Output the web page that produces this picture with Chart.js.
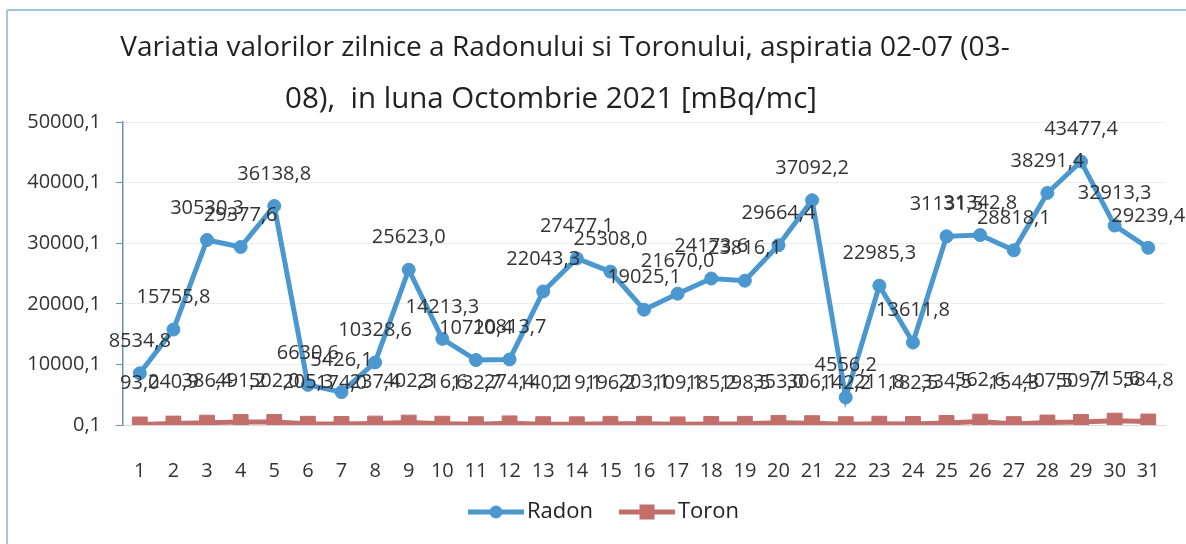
<!DOCTYPE html>
<html>
<head>
<meta charset="utf-8">
<script src="https://cdn.jsdelivr.net/npm/chart.js@4.4.1/dist/chart.umd.min.js"></script>
<style>
html,body{margin:0;padding:0;background:#ffffff;}
#wrap{width:1186px;height:544px;position:relative;}
</style>
</head>
<body>
<div id="wrap"><canvas id="c" width="1186" height="544"></canvas></div>
<script>
const titleLines = [
  "Variatia valorilor zilnice a Radonului si Toronului, aspiratia 02-07 (03-",
  "08),  in luna Octombrie 2021 [mBq/mc]"
];
const days = ["1","2","3","4","5","6","7","8","9","10","11","12","13","14","15","16",
  "17","18","19","20","21","22","23","24","25","26","27","28","29","30","31"];
const radon = [8534.8, 15755.8, 30530.3, 29377.6, 36138.8, 6630.6, 5426.1, 10328.6,
  25623.0, 14213.3, 10720.4, 10813.7, 22043.3, 27477.1, 25308.0, 19025.1, 21670.0,
  24173.6, 23816.1, 29664.4, 37092.2, 4556.2, 22985.3, 13611.8, 31131.5, 31342.8,
  28818.1, 38291.4, 43477.4, 32913.3, 29239.4];
const toron = [93.0, 240.9, 386.4, 491.2, 502.0, 205.3, 174.0, 237.4, 402.3, 216.6,
  132.7, 274.4, 140.2, 119.1, 196.2, 203.1, 109.1, 185.2, 198.5, 353.0, 306.1, 142.2,
  211.8, 182.5, 334.5, 562.6, 154.3, 407.5, 509.7, 715.6, 584.8];
const seriesNames = ["Radon", "Toron"];
const yTicks = [0.1, 10000.1, 20000.1, 30000.1, 40000.1, 50000.1];

const RADON_COLOR = "#4a98cf";
const TORON_COLOR = "#c26f6b";
const TEXT_COLOR = "#333333";
const FONT = '"Open Sans", "DejaVu Sans", sans-serif';

function fmt(v) { return v.toFixed(1).replace(".", ","); }

const framePlugin = {
  id: "frame",
  beforeDraw(chart) {
    const ctx = chart.ctx;
    ctx.save();
    ctx.fillStyle = "#ffffff";
    ctx.fillRect(0, 0, chart.width, chart.height);
    ctx.lineWidth = 2;
    ctx.strokeStyle = "#9fc4df";
    ctx.beginPath(); ctx.moveTo(7, 10); ctx.lineTo(chart.width, 10); ctx.stroke();
    ctx.strokeStyle = "#aec3d3";
    ctx.beginPath(); ctx.moveTo(7, 10); ctx.lineTo(7, chart.height); ctx.stroke();
    ctx.restore();
  },
  afterDraw(chart) {
    const ctx = chart.ctx;
    ctx.save();
    // title
    ctx.fillStyle = "#222222";
    ctx.textAlign = "center";
    ctx.textBaseline = "middle";
    ctx.font = "28px " + FONT;
    ctx.fillText(titleLines[0], 565, 48);
    ctx.font = "29.5px " + FONT;
    ctx.fillText(titleLines[1], 551, 100);
    // legend (line + marker, then series name)
    const legendX = [468, 619];
    const legendY = 512;
    ctx.font = "22px " + FONT;
    ctx.textAlign = "left";
    chart.data.datasets.forEach((ds, i) => {
      const x0 = legendX[i], w = 56, cx = x0 + w / 2;
      ctx.strokeStyle = ds.borderColor;
      ctx.fillStyle = ds.borderColor;
      ctx.lineWidth = 5;
      ctx.beginPath(); ctx.moveTo(x0, legendY); ctx.lineTo(x0 + w, legendY); ctx.stroke();
      if (ds.pointStyle === "circle") {
        ctx.beginPath(); ctx.arc(cx, legendY, 6.5, 0, Math.PI * 2); ctx.fill();
      } else {
        ctx.fillRect(cx - 7.5, legendY - 7.5, 15, 15);
      }
      ctx.fillStyle = "#222222";
      ctx.fillText(ds.label, x0 + w + 3, legendY);
    });
    ctx.restore();
  }
};

const labelPlugin = {
  id: "pointLabels",
  afterDatasetsDraw(chart) {
    const ctx = chart.ctx;
    ctx.save();
    ctx.font = "20px " + FONT;
    ctx.fillStyle = TEXT_COLOR;
    ctx.textAlign = "center";
    ctx.textBaseline = "middle";
    const offsets = [32, 41];
    chart.data.datasets.forEach((ds, di) => {
      const meta = chart.getDatasetMeta(di);
      meta.data.forEach((pt, i) => {
        ctx.fillText(fmt(ds.data[i]), pt.x, pt.y - offsets[di]);
      });
    });
    ctx.restore();
  }
};

function build() {
  new Chart(document.getElementById("c"), {
    type: "line",
    data: {
      labels: days,
      datasets: [
        {
          label: seriesNames[0], data: radon,
          borderColor: RADON_COLOR, backgroundColor: RADON_COLOR,
          borderWidth: 5, pointStyle: "circle", pointRadius: 6.5,
          pointBorderWidth: 1, pointBackgroundColor: RADON_COLOR, pointBorderColor: RADON_COLOR,
          tension: 0, order: 2
        },
        {
          label: seriesNames[1], data: toron,
          borderColor: TORON_COLOR, backgroundColor: TORON_COLOR,
          borderWidth: 5, pointStyle: "rect", pointRadius: 10.5,
          pointBorderWidth: 1, pointBackgroundColor: TORON_COLOR, pointBorderColor: TORON_COLOR,
          tension: 0, order: 1
        }
      ]
    },
    options: {
      responsive: false,
      animation: false,
      devicePixelRatio: 1,
      layout: { padding: { left: 10, right: 19, top: 122, bottom: 0 } },
      scales: {
        x: {
          type: "category",
          offset: true,
          grid: { display: false },
          border: { display: true, color: "#d9d9d9" },
          ticks: { font: { family: FONT, size: 20 }, color: TEXT_COLOR, padding: 26, maxRotation: 0, autoSkip: false },
          afterFit(s) { s.height = 119; }
        },
        y: {
          min: 0.1, max: 50000.1,
          grid: { color: "#ececec", lineWidth: 1, tickLength: 7, tickColor: "#6f8fae", drawTicks: true },
          border: { display: true, color: "#6f8fae", width: 1.5 },
          ticks: { font: { family: FONT, size: 20 }, color: TEXT_COLOR, padding: 15,
                   callback: (v) => fmt(v) },
          afterBuildTicks(s) { s.ticks = yTicks.map(v => ({ value: v })); },
          afterFit(s) { s.width = 113; }
        }
      },
      plugins: {
        title: { display: false },
        tooltip: { enabled: false },
        legend: { display: false }
      }
    },
    plugins: [framePlugin, labelPlugin]
  });
}

if (document.fonts && document.fonts.load) {
  Promise.all([
    document.fonts.load('20px "Open Sans"'),
    document.fonts.load('28px "Open Sans"')
  ]).then(build, build);
} else {
  build();
}
</script>
</body>
</html>
